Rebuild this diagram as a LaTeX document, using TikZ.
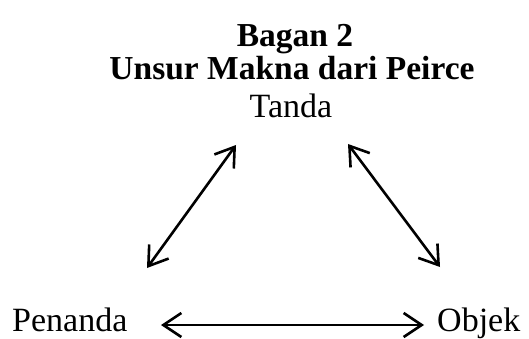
\documentclass[tikz,border=0pt]{standalone}
\usepackage{fontspec}
\setmainfont{Liberation Serif}
\usetikzlibrary{arrows.meta}
\begin{document}
\begin{tikzpicture}[x=1pt,y=-1pt,
  lbl/.style={inner sep=0pt,font=\fontsize{34}{34}\selectfont},
  ttl/.style={inner sep=0pt,font=\fontsize{33.5}{33.5}\selectfont\bfseries},
  arr/.style={line width=2.6pt,{Straight Barb[length=18pt,width=24pt]}-{Straight Barb[length=18pt,width=24pt]}}]
\useasboundingbox (0,0) rectangle (529,339);
\node[ttl,anchor=base] (t1) at (295,47) {Bagan 2};
\node[ttl,anchor=base] (t2) at (292,80) {Unsur Makna dari Peirce};
\node[lbl,anchor=base] (tanda) at (291,118) {Tanda};
\node[lbl,anchor=base west] (pen) at (12,331) {Penanda};
\node[lbl,anchor=base west] (obj) at (437,331) {Objek};
\coordinate (a1) at (147,268);
\coordinate (a2) at (236,145);
\coordinate (b1) at (348,144);
\coordinate (b2) at (440,267);
\coordinate (c1) at (161,325);
\coordinate (c2) at (424,325);
\draw[arr] (a1) -- (a2);
\draw[arr] (b1) -- (b2);
\draw[arr] (c1) -- (c2);
\end{tikzpicture}
\end{document}
